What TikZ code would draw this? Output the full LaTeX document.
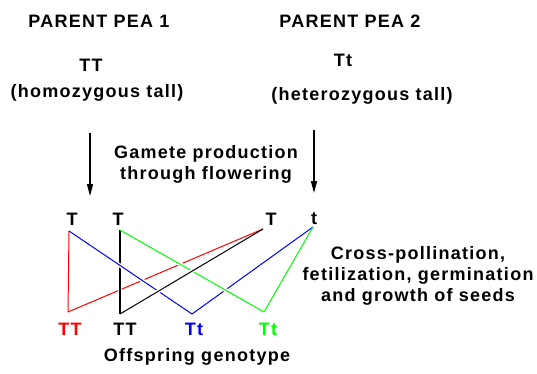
\documentclass[tikz,border=0pt]{standalone}
\usepackage{fontspec}
\setmainfont{Liberation Sans}[LetterSpace=7]
\usetikzlibrary{arrows.meta}

\begin{document}
\begin{tikzpicture}[x=1pt, y=-1pt,
	lbl/.style = {font=\bfseries\fontsize{18}{21}\selectfont, inner sep=0pt, align=center},
	cross/.style = {line width=1pt, preaction={draw=white, line width=4pt, shorten <=7pt, shorten >=#1}},
	cross/.default = 7pt,
	down/.style = {line width=1.4pt, -{Triangle[length=12pt, width=6pt]}},
]
\useasboundingbox (0,0) rectangle (537,373);

% parents
\node[lbl] (parA) at (99,21) {PARENT PEA 1};
\node[lbl] (parB) at (350,21) {PARENT PEA 2};
\node[lbl] (genA) at (91,65) {TT};
\node[lbl] (genB) at (343,60) {Tt};
\node[lbl] (phenA) at (97,93) {(homozygous tall)};
\node[lbl] (phenB) at (362,96) {(heterozygous tall)};

% gamete production
\coordinate (topA) at (90,133);
\coordinate (botA) at (90,196);
\coordinate (topB) at (314,130);
\coordinate (botB) at (314,193);
\draw[down] (topA) -- (botA);
\draw[down] (topB) -- (botB);
\node[lbl] (gam) at (206,164) {Gamete production\\through flowering};

% gametes
\foreach \name/\x/\txt in {tA/72/T, tB/118/T, tC/271/T, tD/314/t}
	{
		\node[lbl] (\name) at (\x,219) {\txt};
	}
\coordinate (gA) at (69,231);
\coordinate (gB) at (120,230);
\coordinate (gC) at (263,229);
\coordinate (gD) at (313,227);

% offspring
\coordinate (vA) at (68,312);
\coordinate (vB) at (120,314);
\coordinate (vC) at (192,314);
\coordinate (vD) at (264,312);
\node[lbl, red] (kA) at (70,329) {TT};
\node[lbl] (kB) at (125,329) {TT};
\node[lbl, blue] (kC) at (194,329) {Tt};
\node[lbl, green] (kD) at (268,329) {Tt};
\node[lbl] (off) at (197,357) {Offspring genotype};

\draw[cross, red] (gA) -- (vA);
\draw[cross, red] (vA) -- (gC);
\draw[cross, line width=1.2pt] (gB) -- (vB);
\draw[cross, blue] (gA) -- (vC);
\draw[cross, blue] (vC) -- (gD);
\draw[cross, green] (gB) -- (vD);
\draw[cross, green] (vD) -- (gD);
\draw[cross=22pt] (vB) -- (gC);

\node[lbl] (fert) at (418,276) {Cross-pollination,\\fetilization, germination\\and growth of seeds};

\end{tikzpicture}
\end{document}
